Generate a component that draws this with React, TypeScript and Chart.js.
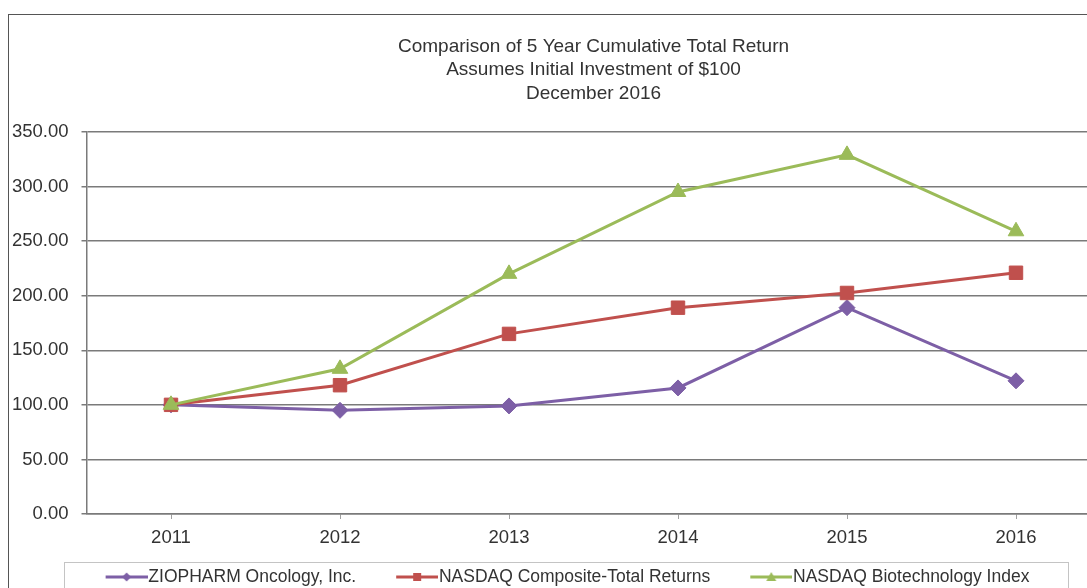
import React, { useEffect, useRef } from "react";
import { Chart, registerables } from "chart.js";

Chart.register(...registerables);

// ---- data ----
const years = ["2011", "2012", "2013", "2014", "2015", "2016"];
const ziopharm = [100, 95, 99, 115.5, 189, 122];
const nasdaqComposite = [100, 118, 165, 189, 202.5, 221];
const nasdaqBiotech = [100, 133, 220, 295, 329, 259];
const seriesNames = [
  "ZIOPHARM Oncology, Inc.",
  "NASDAQ Composite-Total Returns",
  "NASDAQ Biotechnology Index",
];
const titleLines = [
  "Comparison of 5 Year Cumulative Total Return",
  "Assumes Initial Investment of $100",
  "December 2016",
];
const yMin = 0;
const yMax = 350;
const yStep = 50;

// ---- styles ----
const FONT = "'Liberation Sans', Arial, Helvetica, sans-serif";
const TEXT = "#333333";
const COLORS = ["#7d5fa6", "#c0504d", "#9bbb59"];
const STYLES = ["rectRot", "rect", "triangle"];
const RADII = [8, 9.5, 9];

function makeIcon(color: string, style: string): HTMLCanvasElement {
  const c = document.createElement("canvas");
  c.width = 80;
  c.height = 14;
  const ctx = c.getContext("2d") as CanvasRenderingContext2D;
  ctx.strokeStyle = color;
  ctx.lineWidth = 3;
  ctx.beginPath();
  ctx.moveTo(38, 7);
  ctx.lineTo(80, 7);
  ctx.stroke();
  ctx.fillStyle = color;
  ctx.beginPath();
  if (style === "rectRot") {
    ctx.moveTo(59, 2.5);
    ctx.lineTo(63.5, 7);
    ctx.lineTo(59, 11.5);
    ctx.lineTo(54.5, 7);
  } else if (style === "rect") {
    ctx.rect(55, 3, 8, 8);
  } else {
    ctx.moveTo(59, 2);
    ctx.lineTo(64, 11);
    ctx.lineTo(54, 11);
  }
  ctx.closePath();
  ctx.fill();
  return c;
}

const framePlugin = {
  id: "frame",
  beforeDraw(chart: any) {
    const ctx = chart.ctx;
    ctx.save();
    ctx.fillStyle = "#ffffff";
    ctx.fillRect(0, 0, chart.width, chart.height);
    ctx.strokeStyle = "#555555";
    ctx.lineWidth = 1;
    ctx.strokeRect(8.5, 14.5, 1400, 900);
    const lg = chart.legend;
    ctx.strokeStyle = "#c4c4c4";
    ctx.strokeRect(64.5, Math.round(lg.top + 3.5) + 0.5, 1004, 200);
    ctx.restore();
  },
};

export default function App() {
  const ref = useRef<HTMLCanvasElement | null>(null);

  useEffect(() => {
    if (!ref.current) return;
    const icons = COLORS.map((c, i) => makeIcon(c, STYLES[i]));
    const seriesData = [ziopharm, nasdaqComposite, nasdaqBiotech];
    const chart = new Chart(ref.current, {
      type: "line",
      data: {
        labels: years,
        datasets: seriesData.map((d, i) => ({
          label: seriesNames[i],
          data: d,
          borderColor: COLORS[i],
          backgroundColor: COLORS[i],
          borderWidth: 3,
          pointStyle: STYLES[i] as any,
          pointRadius: RADII[i],
          pointBorderWidth: 1,
          pointBackgroundColor: COLORS[i],
          pointBorderColor: COLORS[i],
          tension: 0,
          fill: false,
          order: 3 - i,
        })),
      },
      options: {
        animation: false,
        responsive: false,
        maintainAspectRatio: false,
        devicePixelRatio: 1,
        events: [],
        layout: { padding: { left: 4.5, right: 19.5, top: 0, bottom: 4.25 } },
        plugins: {
          title: {
            display: true,
            text: titleLines,
            fullSize: false,
            color: TEXT,
            font: { family: FONT, size: 19, weight: "normal", lineHeight: 1.25 },
            padding: { top: 34.6, bottom: 26.1 },
          },
          legend: {
            position: "bottom",
            labels: {
              usePointStyle: true,
              pointStyleWidth: 64,
              padding: 10,
              color: TEXT,
              font: { family: FONT, size: 17.5 },
              generateLabels: (ch: any) => {
                const items = (Chart.defaults.plugins.legend.labels as any).generateLabels(ch);
                return items
                  .sort((a: any, b: any) => a.datasetIndex - b.datasetIndex)
                  .map((it: any) => ({ ...it, pointStyle: icons[it.datasetIndex] }));
              },
            },
          },
          tooltip: { enabled: false },
        },
        scales: {
          x: {
            type: "category",
            offset: true,
            grid: {
              display: true,
              drawOnChartArea: false,
              drawTicks: true,
              tickLength: 5,
              color: "#a0a0a0",
              lineWidth: 1,
            },
            border: { display: true, color: "#7a7a7a", width: 1.5 },
            ticks: {
              color: TEXT,
              font: { family: FONT, size: 18.5 },
              padding: 8,
              maxRotation: 0,
              autoSkip: false,
            },
            afterFit: (s: any) => {
              s.height = 44.25;
            },
          },
          y: {
            min: yMin,
            max: yMax,
            ticks: {
              stepSize: yStep,
              color: TEXT,
              font: { family: FONT, size: 18.5 },
              padding: 13,
              callback: (v: any) => Number(v).toFixed(2),
            },
            grid: { color: "#7a7a7a", lineWidth: 1.5, tickLength: 5 },
            border: { display: true, color: "#7a7a7a", width: 1.5 },
            afterFit: (s: any) => {
              s.width = 82;
            },
          },
        },
      },
      plugins: [framePlugin],
    });
    return () => chart.destroy();
  }, []);

  return (
    <div
      style={{
        position: "fixed",
        left: 0,
        top: 0,
        width: 1087,
        height: 588,
        overflow: "hidden",
        background: "#ffffff",
      }}
    >
      <canvas ref={ref} width={1120} height={600} style={{ display: "block" }} />
    </div>
  );
}
